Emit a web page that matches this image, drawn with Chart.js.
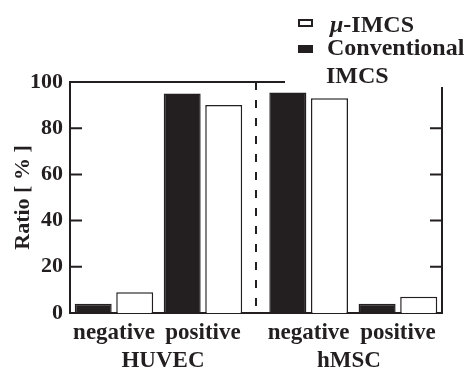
<!DOCTYPE html>
<html>
<head>
<meta charset="utf-8">
<script src="https://cdn.jsdelivr.net/npm/chart.js@4"></script>
<style>
  body { margin: 0; background: #fff; }
  #wrap { position: relative; width: 471px; height: 371px; }
  .lg { position: absolute; font: bold 24px "Liberation Serif", serif; line-height: 24px; color: #231f20; white-space: nowrap; }
  .sw { position: absolute; width: 15px; height: 8px; box-sizing: border-box; }
</style>
</head>
<body>
<div id="wrap">
  <canvas id="chart"></canvas>
  <div class="sw" style="left:298px;top:19px;border:2px solid #231f20;background:#fff"></div>
  <div class="lg" style="left:330px;top:12px"><i>μ</i>-IMCS</div>
  <div class="sw" style="left:298px;top:45px;background:#231f20"></div>
  <div class="lg" style="left:327px;top:35px">Conventional</div>
  <div class="lg" style="left:326px;top:63px">IMCS</div>
</div>
<script>
// cell types (one x axis each) and markers inside each
const groups = ['HUVEC', 'hMSC'];
const markers = ['negative', 'positive'];
// ratio in %
const conventionalHUVEC = [4, 95];
const microHUVEC = [9, 90];
const conventionalHMSC = [95.5, 4];
const microHMSC = [93, 7];
const yTicks = [0, 20, 40, 60, 80, 100];

const ink = '#231f20';
const serif = { family: '"Liberation Serif", serif', weight: 'bold', size: 22 };

const toPoints = arr => arr.map((v, i) => ({ x: i, y: v }));

// frame, inward ticks and dashed separator
const frame = {
    id: 'frame',
    afterDraw(chart) {
        const { ctx, chartArea: a, scales } = chart;
        ctx.save();
        ctx.strokeStyle = ink;
        ctx.lineWidth = 2;
        ctx.beginPath();
        ctx.moveTo(a.left, a.top);
        ctx.lineTo(a.left + 215, a.top);
        ctx.moveTo(a.right, a.top + 5);
        ctx.lineTo(a.right, a.bottom);
        yTicks.slice(1, -1).forEach(v => {
            const py = scales.y.getPixelForValue(v);
            ctx.moveTo(a.left, py);
            ctx.lineTo(a.left + 12, py);
            ctx.moveTo(a.right, py);
            ctx.lineTo(a.right - 12, py);
        });
        ctx.stroke();
        const sx = scales.xH.right;
        ctx.setLineDash([8, 10]);
        ctx.beginPath();
        ctx.moveTo(sx, a.top);
        ctx.lineTo(sx, a.bottom);
        ctx.stroke();
        ctx.restore();
    }
};

function groupAxis(name, min, max) {
    return {
        type: 'linear',
        position: 'bottom',
        stack: 'cells',
        stackWeight: 1,
        min: min,
        max: max,
        offset: false,
        afterBuildTicks(s) { s.ticks = markers.map((_, i) => ({ value: i })); },
        afterFit(s) { s.height = 58; },
        grid: { display: false, drawTicks: false, offset: false },
        border: { display: true, color: ink, width: 2 },
        ticks: {
            autoSkip: false, maxRotation: 0, padding: 6, color: ink,
            font: { ...serif, size: 23 },
            callback: v => markers[v]
        },
        title: {
            display: true, text: name, color: ink,
            font: { ...serif, size: 23, lineHeight: 1 },
            padding: { top: 0, bottom: -2 }
        }
    };
}

// indexAxis is set per dataset; the chart level 'y' stops 4.5 from
// splitting each group again by x axis id
const bar = { indexAxis: 'x', borderColor: ink, borderWidth: 1.5, categoryPercentage: 0.933, barPercentage: 0.89 };

new Chart(document.getElementById('chart'), {
    type: 'bar',
    data: {
        datasets: [
            { ...bar, label: 'Conventional IMCS', stack: 'conv', xAxisID: 'xH', data: toPoints(conventionalHUVEC), backgroundColor: ink },
            { ...bar, label: 'μ-IMCS', stack: 'micro', xAxisID: 'xH', data: toPoints(microHUVEC), backgroundColor: '#fff' },
            { ...bar, label: 'Conventional IMCS', stack: 'conv', xAxisID: 'xM', data: toPoints(conventionalHMSC), backgroundColor: ink },
            { ...bar, label: 'μ-IMCS', stack: 'micro', xAxisID: 'xM', data: toPoints(microHMSC), backgroundColor: '#fff' }
        ]
    },
    options: {
        indexAxis: 'y',
        responsive: true,
        maintainAspectRatio: false,
        animation: false,
        layout: { padding: { top: 82, right: 29, left: 0, bottom: 0 } },
        plugins: { legend: { display: false }, tooltip: { enabled: false } },
        scales: {
            xH: groupAxis(groups[0], -0.494, 1.596),
            xM: groupAxis(groups[1], -0.59, 1.494),
            y: {
                type: 'linear',
                position: 'left',
                offset: false,
                min: 0, max: 100,
                afterBuildTicks(s) { s.ticks = yTicks.map(v => ({ value: v })); },
                afterFit(s) { s.width = 70; },
                grid: { display: false, drawTicks: false, offset: false },
                border: { display: true, color: ink, width: 2 },
                ticks: { padding: 7, color: ink, font: serif },
                title: { display: true, text: 'Ratio [ % ]', color: ink, font: serif, padding: { top: 10 } }
            }
        }
    },
    plugins: [frame]
});
</script>
</body>
</html>
